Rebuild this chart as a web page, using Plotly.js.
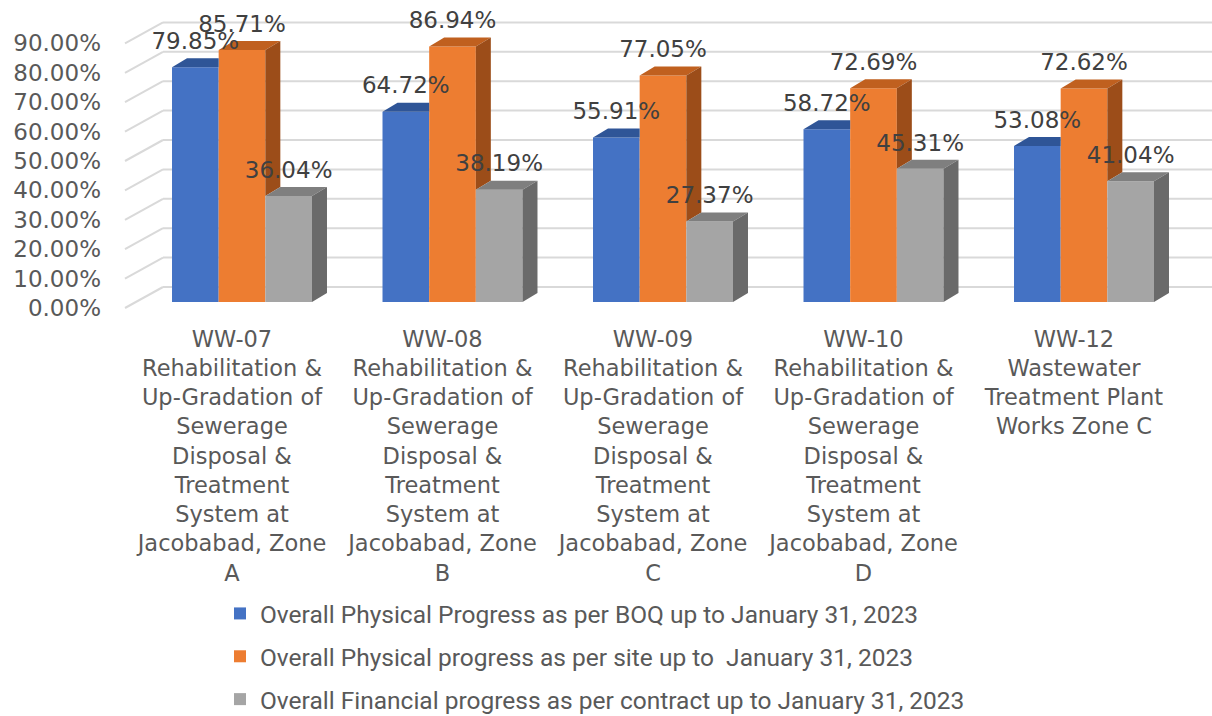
<!DOCTYPE html>
<html><head><meta charset="utf-8">
<script src="https://cdn.plot.ly/plotly-3.0.1.min.js"></script>
<style>html,body{margin:0;padding:0;background:#fff}#chart{width:1212px;height:716px}</style>
</head><body><div id="chart"></div>
<script>
// ---------------- DATA ----------------
const categoryLabels = [
  "WW-07<br>Rehabilitation &<br>Up-Gradation of<br>Sewerage<br>Disposal &<br>Treatment<br>System at<br>Jacobabad, Zone<br>A",
  "WW-08<br>Rehabilitation &<br>Up-Gradation of<br>Sewerage<br>Disposal &<br>Treatment<br>System at<br>Jacobabad, Zone<br>B",
  "WW-09<br>Rehabilitation &<br>Up-Gradation of<br>Sewerage<br>Disposal &<br>Treatment<br>System at<br>Jacobabad, Zone<br>C",
  "WW-10<br>Rehabilitation &<br>Up-Gradation of<br>Sewerage<br>Disposal &<br>Treatment<br>System at<br>Jacobabad, Zone<br>D",
  "WW-12<br>Wastewater<br>Treatment Plant<br>Works Zone C"
];
const seriesNames = [
  "Overall Physical Progress as per BOQ up to January 31, 2023",
  "Overall Physical progress as per site up to  January 31, 2023",
  "Overall Financial progress as per contract up to January 31, 2023"
];
const boqProgress = [79.85, 64.72, 55.91, 58.72, 53.08];
const siteProgress = [85.71, 86.94, 77.05, 72.69, 72.62];
const financialProgress = [36.04, 38.19, 27.37, 45.31, 41.04];
const yTickValues = [0, 10, 20, 30, 40, 50, 60, 70, 80, 90];
const yTickLabels = ["0.00%", "10.00%", "20.00%", "30.00%", "40.00%", "50.00%", "60.00%", "70.00%", "80.00%", "90.00%"];

// ---------------- STYLE / GEOMETRY ----------------
const frontColors = ["#4472C4", "#ED7D31", "#A5A5A5"];
const topColors   = ["#2F5597", "#C0601F", "#7F7F7F"];
const sideColors  = ["#2A4A82", "#9C4D19", "#6A6A6A"];
const W = 1212, H = 716;
const M = {l: 110, r: 5, t: 10, b: 396, autoexpand: false};
const plotW = W - M.l - M.r, plotH = H - M.t - M.b;
const catPx = 210.5, firstCatPx = 242;
const yPx = 2.94, zeroPx = 302;
const xRange = [(M.l - firstCatPx) / catPx, (W - M.r - firstCatPx) / catPx];
const yRange = [(zeroPx - (H - M.b)) / yPx, (zeroPx - M.t) / yPx];
const bargap = 0.335;
const nSeries = 3;
const barW = (1 - bargap) / nSeries;
const dX = 15 / catPx, dY = 9 / yPx;          // bar depth
const labelShiftX = -10 / catPx;               // category labels sit on front plane
const frontShiftY = -6 / yPx, backShiftY = 15 / yPx;
const frontPaperX = (125 - M.l) / plotW, backPaperX = (163 - M.l) / plotW;
const labelLift = 24 / yPx;

const allSeries = [boqProgress, siteProgress, financialProgress];
const idx = categoryLabels.map((c, i) => i);

const traces = [];
allSeries.forEach((vals, k) => {
  traces.push({
    type: "bar", x: idx, y: vals, name: seriesNames[k], legendgroup: "g" + k,
    marker: {color: frontColors[k], line: {width: 0}}, hoverinfo: "skip"
  });
});
allSeries.forEach((vals, k) => {
  const tx = [], ty = [], sx = [], sy = [];
  vals.forEach((v, i) => {
    const c = i + (k - (nSeries - 1) / 2) * barW;
    const xl = c - barW / 2, xr = c + barW / 2;
    const next = k < nSeries - 1 ? allSeries[k + 1][i] : null;
    if (next !== null && next > v) {
      tx.push(xl, xr, xr, xl + dX, xl, null);
      ty.push(v, v, v + dY, v + dY, v, null);
    } else {
      tx.push(xl, xr, xr + dX, xl + dX, xl, null);
      ty.push(v, v, v + dY, v + dY, v, null);
      const base = next === null ? 0 : next;
      sx.push(xr, xr, xr + dX, xr + dX, xr, null);
      sy.push(base, v, v + dY, base + dY, base, null);
    }
  });
  traces.push({type: "scatter", mode: "lines", x: tx, y: ty, fill: "toself", fillcolor: topColors[k],
    line: {width: 0, color: topColors[k]}, showlegend: false, hoverinfo: "skip"});
  if (sx.length) traces.push({type: "scatter", mode: "lines", x: sx, y: sy, fill: "toself", fillcolor: sideColors[k],
    line: {width: 0, color: sideColors[k]}, showlegend: false, hoverinfo: "skip"});
});
allSeries.forEach((vals, k) => {
  traces.push({
    type: "scatter", mode: "text",
    x: idx.map(i => i + (k - (nSeries - 1) / 2) * barW),
    y: vals.map(v => v + labelLift),
    text: vals.map(v => v.toFixed(2) + "%"),
    textposition: "middle center",
    textfont: {family: "DejaVu Sans", size: 23, color: "#404040"},
    showlegend: false, hoverinfo: "skip", cliponaxis: false
  });
});

const shapes = [];
yTickValues.forEach(v => {
  shapes.push({type: "line", xref: "paper", yref: "y", layer: "below",
    x0: backPaperX, x1: 1.01, y0: v + backShiftY, y1: v + backShiftY,
    line: {color: "#D9D9D9", width: 2}});
  shapes.push({type: "line", xref: "paper", yref: "y", layer: "below",
    x0: frontPaperX, x1: backPaperX, y0: v + frontShiftY, y1: v + backShiftY,
    line: {color: "#D9D9D9", width: 2}});
});

const layout = {
  width: W, height: H, margin: M,
  paper_bgcolor: "#ffffff", plot_bgcolor: "#ffffff",
  barmode: "group", bargap: bargap, bargroupgap: 0,
  showlegend: true,
  xaxis: {type: "linear", range: xRange, tickvals: idx.map(i => i + labelShiftX), ticktext: categoryLabels,
    showgrid: false, zeroline: false, showline: false, ticks: "", fixedrange: true, automargin: false,
    tickfont: {family: "DejaVu Sans", size: 22.5, color: "#595959"}, ticklabelstandoff: 3},
  yaxis: {range: yRange, tickvals: yTickValues.map(v => v + frontShiftY), ticktext: yTickLabels,
    showgrid: false, zeroline: false, showline: false, ticks: "", fixedrange: true, automargin: false,
    tickfont: {family: "DejaVu Sans", size: 23, color: "#595959"}, ticklabelstandoff: 8},
  shapes: shapes,
  legend: {x: (220 - M.l) / plotW, xanchor: "left", y: (H - M.b - 591) / plotH, yanchor: "top",
    traceorder: "grouped", tracegroupgap: 8, bgcolor: "rgba(0,0,0,0)",
    font: {family: "Roboto", size: 24.5, color: "#595959"}},
  hovermode: false
};
Plotly.newPlot("chart", traces, layout, {displayModeBar: false, staticPlot: true});
</script></body></html>
